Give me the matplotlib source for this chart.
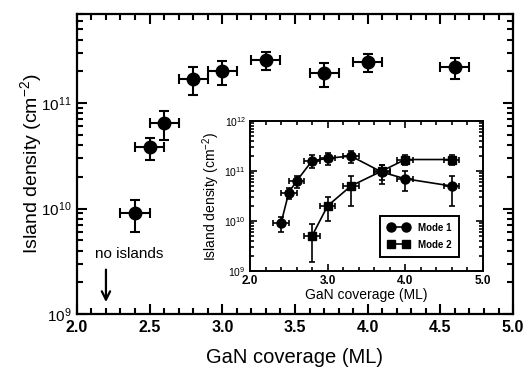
import matplotlib
matplotlib.use("Agg")
import matplotlib.pyplot as plt
from matplotlib.lines import Line2D
from matplotlib.ticker import MultipleLocator, LogLocator, NullFormatter

plt.rcParams['font.family'] = ['Liberation Sans', 'DejaVu Sans']
plt.rcParams['mathtext.fontset'] = 'custom'
plt.rcParams['mathtext.rm'] = 'Liberation Sans'
plt.rcParams['mathtext.bf'] = 'Liberation Sans:bold'
plt.rcParams['mathtext.default'] = 'regular'

# ---- main panel data ----
main_x = [2.4, 2.5, 2.6, 2.8, 3.0, 3.3, 3.7, 4.0, 4.6]
main_y = [9e9, 3.8e10, 6.5e10, 1.7e11, 2.0e11, 2.55e11, 1.92e11, 2.45e11, 2.2e11]
main_yerr = [3e9, 9e9, 2e10, 5e10, 5e10, 5e10, 5e10, 5e10, 5e10]
main_xerr = 0.1

# ---- inset data ----
mode1_x = [2.4, 2.5, 2.6, 2.8, 3.0, 3.3, 3.7, 4.0, 4.6]
mode1_y = [9e9, 3.7e10, 6.3e10, 1.6e11, 1.8e11, 2.0e11, 9.5e10, 7e10, 5e10]
mode1_yerr = [3e9, 9e9, 1.7e10, 4.5e10, 5e10, 5.5e10, 4e10, 3e10, 3e10]
mode2_x = [2.8, 3.0, 3.3, 3.7, 4.0, 4.6]
mode2_y = [5e9, 2e10, 5e10, 1.0e11, 1.7e11, 1.7e11]
mode2_yerr = [3.5e9, 1e10, 3e10, 3.5e10, 4e10, 3.5e10]
inset_xerr = 0.1

main_xticks = [2.0, 2.5, 3.0, 3.5, 4.0, 4.5, 5.0]
main_yticks = [1e9, 1e10, 1e11]
main_ytick_labels = ['$10^{9}$', '$10^{10}$', '$10^{11}$']
inset_xticks = [2.0, 3.0, 4.0, 5.0]
inset_yticks = [1e9, 1e10, 1e11, 1e12]
inset_ytick_labels = ['$10^{9}$', '$10^{10}$', '$10^{11}$', '$10^{12}$']
legend_labels = ['Mode 1', 'Mode 2']

fig = plt.figure(figsize=(5.23, 3.67), dpi=100)
ax = fig.add_axes([0.147, 0.1444, 0.834, 0.8176])

ax.errorbar(main_x, main_y, yerr=main_yerr, xerr=main_xerr, fmt='o', color='black',
            ms=9, elinewidth=1.5, capsize=3.5, capthick=1.5)
ax.set_yscale('log')
ax.set_xlim(2.0, 5.0)
ax.set_ylim(1e9, 7e11)
ax.set_xticks(main_xticks)
ax.set_xticklabels(['%.1f' % v for v in main_xticks], fontweight='bold', fontsize=11.5)
ax.xaxis.set_minor_locator(MultipleLocator(0.1))
ax.set_yticks(main_yticks)
ax.set_yticklabels(main_ytick_labels, fontsize=11)
ax.yaxis.set_minor_locator(LogLocator(base=10, subs=range(2, 10), numticks=20))
ax.yaxis.set_minor_formatter(NullFormatter())
ax.tick_params(which='both', direction='in', top=True, right=True, width=1.5)
ax.tick_params(which='major', length=7, pad=4)
ax.tick_params(which='minor', length=4)
for s in ax.spines.values():
    s.set_linewidth(1.6)
ax.set_xlabel('GaN coverage (ML)', fontsize=14.5, labelpad=10)
ax.set_ylabel('Island density (cm$^{-2}$)', fontsize=14, labelpad=-2)

ax.text(2.36, 3.4e9, 'no islands', ha='center', va='baseline', fontsize=11)
ax.annotate('', xy=(2.2, 1.22e9), xytext=(2.2, 2.8e9),
            arrowprops=dict(arrowstyle='->,head_length=0.6,head_width=0.3', lw=1.6, color='black'))

# ---- inset ----
ins = fig.add_axes([0.478, 0.262, 0.445, 0.408])
ins.errorbar(mode1_x, mode1_y, yerr=mode1_yerr, xerr=inset_xerr, fmt='-o', color='black',
             ms=6.5, lw=1.2, elinewidth=1.2, capsize=2.5, capthick=1.2)
ins.errorbar(mode2_x, mode2_y, yerr=mode2_yerr, xerr=inset_xerr, fmt='-s', color='black',
             ms=6, lw=1.2, elinewidth=1.2, capsize=2.5, capthick=1.2)
ins.set_yscale('log')
ins.set_xlim(2.0, 5.0)
ins.set_ylim(1e9, 1e12)
ins.set_xticks(inset_xticks)
ins.set_xticklabels(['%.1f' % v for v in inset_xticks], fontweight='bold', fontsize=8.5)
ins.xaxis.set_minor_locator(MultipleLocator(0.2))
ins.set_yticks(inset_yticks)
ins.set_yticklabels(inset_ytick_labels, fontsize=7.5)
ins.yaxis.set_minor_locator(LogLocator(base=10, subs=range(2, 10), numticks=20))
ins.yaxis.set_minor_formatter(NullFormatter())
ins.tick_params(which='both', direction='in', top=True, right=True, width=1.2)
ins.tick_params(which='major', length=5, pad=3)
ins.tick_params(which='minor', length=3)
for s in ins.spines.values():
    s.set_linewidth(1.4)
ins.set_xlabel('GaN coverage (ML)', fontsize=10, labelpad=1)
ins.set_ylabel('Island density (cm$^{-2}$)', fontsize=10, labelpad=2)

handles = [Line2D([], [], color='black', marker='o', ms=6.5, lw=1.2),
           Line2D([], [], color='black', marker='s', ms=6, lw=1.2)]
leg = ins.legend(handles, legend_labels, loc='lower left', bbox_to_anchor=(0.56, 0.093),
                 borderaxespad=0, numpoints=2, fontsize=7, handlelength=2.2,
                 frameon=True, fancybox=False, framealpha=1, edgecolor='black',
                 borderpad=0.75, labelspacing=0.7, handletextpad=0.9)
leg.get_frame().set_linewidth(1.4)
for t in leg.get_texts():
    t.set_fontweight('bold')

fig.savefig('out.png', dpi=100)
